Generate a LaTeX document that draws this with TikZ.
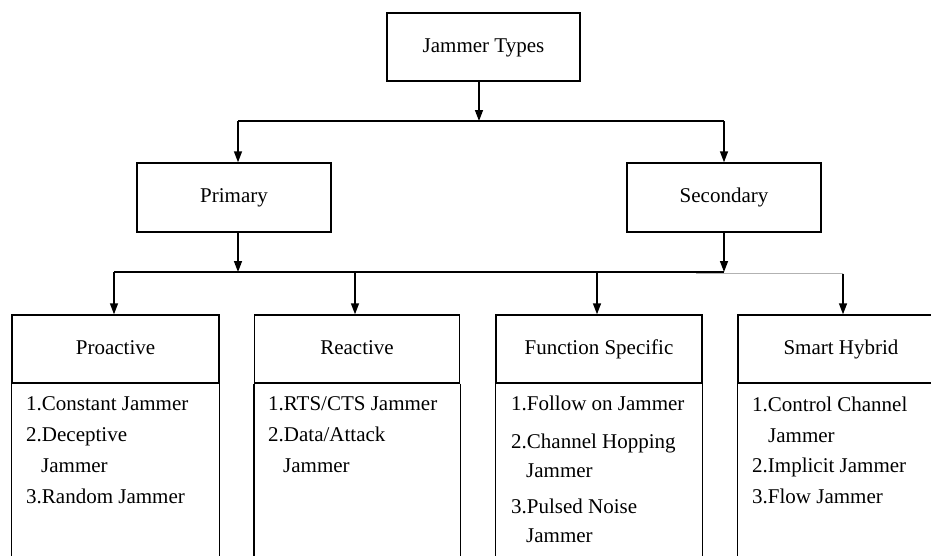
\documentclass[tikz,border=0pt]{standalone}
\usepackage{fontspec}
\setmainfont{Liberation Serif}
\usetikzlibrary{arrows.meta}
\begin{document}
\begin{tikzpicture}[x=1pt,y=-1pt,
 every node/.style={font=\fontsize{21}{25}\selectfont},
 box/.style={draw, line width=1.4pt, inner sep=0pt, text height=14.7pt, text depth=4.2pt},
 arr/.style={line width=1.4pt, -{Triangle[length=11pt,width=8pt]}},
 conn/.style={line width=1.4pt},
 item/.style={anchor=base west, inner sep=0pt}]
\useasboundingbox (0,0) rectangle (931,555);
\clip (0,0) rectangle (931,555);

% top levels
\node[box, minimum width=193pt, minimum height=68pt] (jt) at (483.5,47) {Jammer Types};
\node[box, minimum width=194pt, minimum height=69pt] (pri) at (234,197.5) {Primary};
\node[box, minimum width=194pt, minimum height=69pt] (sec) at (724,197.5) {Secondary};

% bottom boxes (titles)
\node[box, minimum width=207pt, minimum height=68pt] (pro) at (115.5,349) {Proactive};
\node[box, minimum width=205pt, minimum height=68pt] (rea) at (357,349) {Reactive};
\node[box, minimum width=206pt, minimum height=68pt] (fun) at (599,349) {Function Specific};
\node[box, minimum width=206pt, minimum height=68pt] (sma) at (841,349) {Smart Hybrid};

% body sides
\foreach \n in {pro,rea,fun,sma}{
  \draw[conn] (\n.south west) -- ++(0,220);
  \draw[conn] (\n.south east) -- ++(0,220);
}

% items
\node[item] (pro1) at (26,410) {1.Constant Jammer};
\node[item] (pro2) at (26,441) {2.Deceptive};
\node[item] (pro2b) at (41,472) {Jammer};
\node[item] (pro3) at (26,503) {3.Random Jammer};

\node[item] (rea1) at (268,410) {1.RTS/CTS Jammer};
\node[item] (rea2) at (268,441) {2.Data/Attack};
\node[item] (rea2b) at (283,472) {Jammer};

\node[item] (fun1) at (511,410) {1.Follow on Jammer};
\node[item] (fun2) at (511,448) {2.Channel Hopping};
\node[item] (fun2b) at (526,477) {Jammer};
\node[item] (fun3) at (511,513) {3.Pulsed Noise};
\node[item] (fun3b) at (526,542) {Jammer};

\node[item] (sma1) at (752,411) {1.Control Channel};
\node[item] (sma1b) at (768,442) {Jammer};
\node[item] (sma2) at (752,472) {2.Implicit Jammer};
\node[item] (sma3) at (752,503) {3.Flow Jammer};

% connectors level 1
\coordinate (t1) at (479,121);
\coordinate (b1l) at (238,121);
\coordinate (b1r) at (724,121);
\draw[arr] (jt.south -| t1) -- (t1);
\draw[conn] (b1l) -- (b1r);
\draw[arr] (b1l) -- (b1l |- pri.north);
\draw[arr] (b1r) -- (sec.north);

% connectors level 2
\coordinate (p1) at (238,272);
\coordinate (s1) at (724,272);
\coordinate (b2l) at (114,272);
\coordinate (b2a) at (355,272);
\coordinate (b2b) at (597,272);
\coordinate (g1) at (696,273.5);
\coordinate (g2) at (843,273.5);
\draw[arr] (pri.south -| p1) -- (p1);
\draw[arr] (sec.south) -- (s1);
\draw[conn] (b2l) -- (s1);
\draw[conn, gray!60] (g1) -- (g2);
\draw[arr] (b2l) -- (b2l |- pro.north);
\draw[arr] (b2a) -- (b2a |- rea.north);
\draw[arr] (b2b) -- (b2b |- fun.north);
\draw[arr] (g2) -- (g2 |- sma.north);
\end{tikzpicture}
\end{document}
